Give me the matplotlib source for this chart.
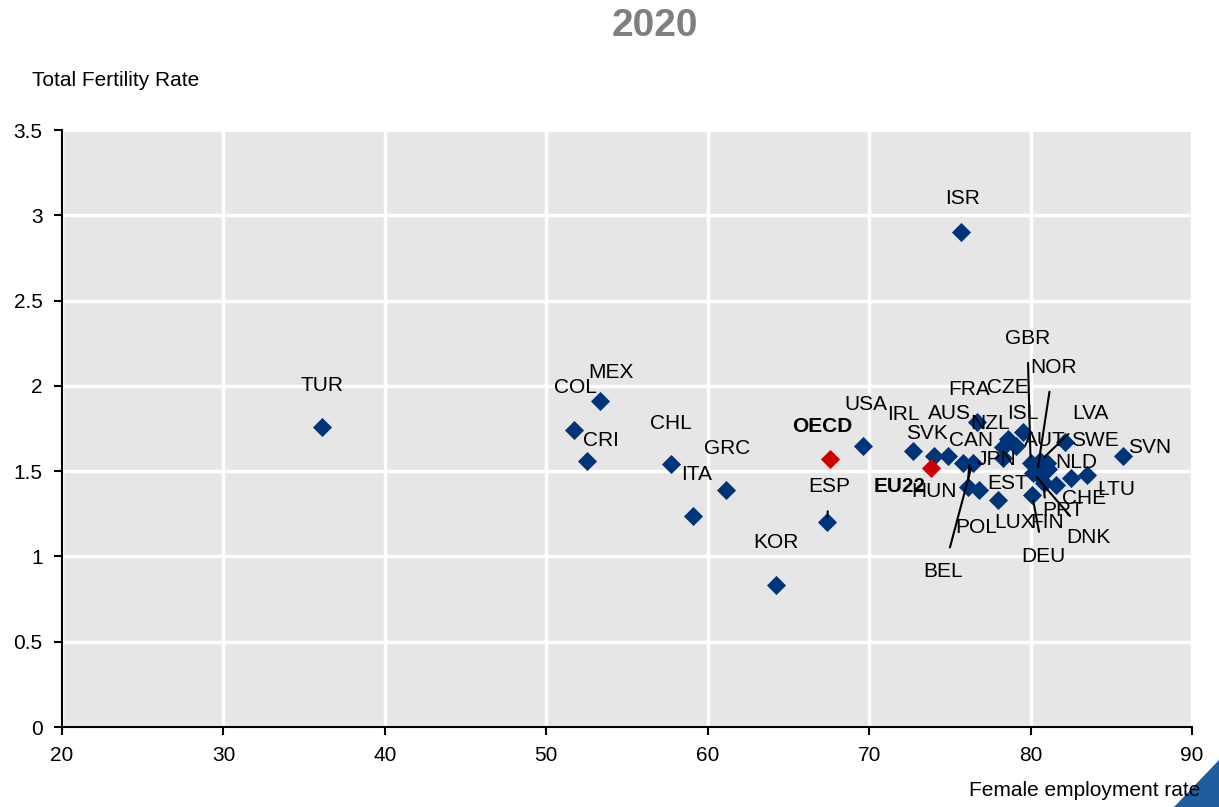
import matplotlib.pyplot as plt
from matplotlib.patches import Polygon

plt.rcParams['font.family'] = ['Liberation Sans Narrow', 'Liberation Sans', 'DejaVu Sans']

# country codes, female employment rate, total fertility rate
countries = ["TUR", "COL", "MEX", "CRI", "CHL", "ITA", "GRC", "KOR", "ESP", "USA",
             "IRL", "SVK", "AUS", "ISR", "HUN", "BEL", "CAN", "POL", "FRA", "LUX",
             "NZL", "CZE", "JPN", "EST", "ISL", "GBR", "LVA", "NOR", "AUT", "SWE",
             "NLD", "DEU", "FIN", "PRT", "DNK", "CHE", "LTU", "SVN"]
emp = [36.1, 51.7, 53.3, 52.5, 57.7, 59.1, 61.1, 64.2, 67.4, 69.6,
       72.7, 74.0, 74.9, 75.7, 75.8, 76.4, 76.1, 76.8, 76.7, 78.0,
       78.3, 78.6, 78.3, 79.1, 79.5, 80.0, 80.6, 80.4, 81.0, 82.1,
       81.1, 80.1, 80.8, 81.6, 80.15, 82.5, 83.5, 85.7]
tfr = [1.76, 1.74, 1.91, 1.56, 1.54, 1.24, 1.39, 0.83, 1.20, 1.65,
       1.62, 1.59, 1.59, 2.90, 1.55, 1.55, 1.41, 1.39, 1.79, 1.33,
       1.64, 1.69, 1.58, 1.65, 1.73, 1.55, 1.56, 1.49, 1.55, 1.67,
       1.51, 1.36, 1.43, 1.42, 1.49, 1.46, 1.48, 1.59]
# label positions (data units); some labels get a leader line
label_x = [36.1, 51.8, 54.0, 53.4, 57.7, 59.3, 61.2, 64.2, 67.5, 69.8,
           72.1, 73.6, 75.0, 75.8, 74.0, 74.6, 76.3, 76.6, 76.2, 79.0,
           77.5, 78.6, 77.9, 78.6, 79.5, 79.8, 83.7, 81.4, 80.9, 84.0,
           82.8, 80.8, 81.0, 82.0, 83.6, 83.3, 85.3, 87.4]
label_y = [2.00, 1.99, 2.08, 1.68, 1.78, 1.48, 1.63, 1.08, 1.41, 1.89,
           1.83, 1.72, 1.84, 3.10, 1.38, 0.91, 1.68, 1.17, 1.98, 1.20,
           1.78, 1.99, 1.57, 1.43, 1.84, 2.28, 1.84, 2.11, 1.68, 1.68,
           1.55, 1.00, 1.20, 1.27, 1.11, 1.34, 1.39, 1.64]
leader = ["ESP", "BEL", "CAN", "GBR", "NOR", "LVA", "DEU", "FIN", "DNK"]

# aggregates
agg_names = ["OECD", "EU22"]
agg_emp = [67.6, 73.8]
agg_tfr = [1.57, 1.52]
agg_label_x = [67.1, 71.9]
agg_label_y = [1.76, 1.41]

fig = plt.figure(figsize=(12.19, 8.07), dpi=100)
ax = fig.add_axes([0.0509, 0.0991, 0.9270, 0.7398])
ax.set_facecolor('#e6e6e6')

ax.scatter(emp, tfr, marker='D', s=95, color='#003479', zorder=3, linewidths=0)
ax.scatter(agg_emp, agg_tfr, marker='D', s=95, color='#cc0000', zorder=3, linewidths=0)

for name, x, y, lx, ly in zip(countries, emp, tfr, label_x, label_y):
    if name in leader:
        ax.annotate(name, xy=(x, y), xytext=(lx, ly), fontsize=15, ha='center', va='center',
                    arrowprops=dict(arrowstyle='-', color='black', lw=1.5, shrinkA=9, shrinkB=4),
                    zorder=4)
    else:
        ax.text(lx, ly, name, fontsize=15, ha='center', va='center', zorder=4)

for name, lx, ly in zip(agg_names, agg_label_x, agg_label_y):
    ax.text(lx, ly, name, fontsize=15, ha='center', va='center', fontweight='bold', zorder=4)

ax.set_xlim(20, 90)
ax.set_ylim(0, 3.5)
ax.set_xticks(range(20, 91, 10))
ax.set_yticks([0, 0.5, 1, 1.5, 2, 2.5, 3, 3.5])
ax.set_yticklabels(['0', '0.5', '1', '1.5', '2', '2.5', '3', '3.5'])
ax.grid(True, color='white', linewidth=2.5)
ax.set_axisbelow(True)
for s in ['top', 'right']:
    ax.spines[s].set_visible(False)
for s in ['left', 'bottom']:
    ax.spines[s].set_linewidth(1.5)
    ax.spines[s].set_color('black')
ax.tick_params(axis='both', labelsize=15, length=6, width=1.5, direction='out', pad=8)

fig.text(0.537, 0.968, '2020', fontsize=28, fontweight='bold', color='#7f7f7f', ha='center', va='center')
fig.text(0.026, 0.90, 'Total Fertility Rate', fontsize=15, ha='left', va='center')
fig.text(0.985, 0.021, 'Female employment rate', fontsize=15, ha='right', va='center')

fig.patches.append(Polygon([[1.0, 0.058], [1.0, 0.0], [0.963, 0.0]], closed=True,
                           transform=fig.transFigure, color='#1f5d9c', zorder=0))

fig.savefig('out.png', dpi=100)
